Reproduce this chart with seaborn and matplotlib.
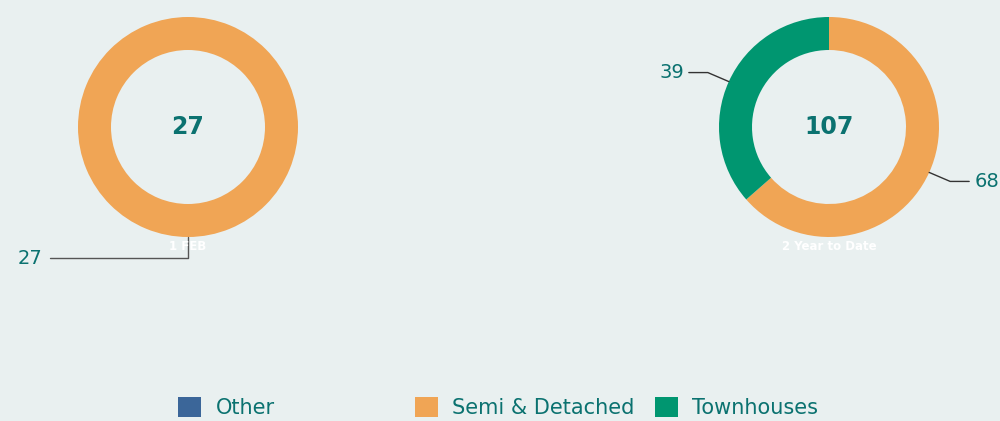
import numpy as np
import seaborn as sns
import matplotlib.pyplot as plt
from matplotlib.patches import Patch

categories = ["Other", "Semi & Detached", "Townhouses"]
feb_values = [0, 27, 0]
ytd_values = [0, 68, 39]
chart_titles = ["1 FEB", "2 Year to Date"]

colors = ["#3b6699", "#f0a555", "#009670"]
bg = "#e9f0f0"
teal = "#0b7270"

sns.set_theme(style="white")
plt.rcParams['font.family'] = ['DejaVu Sans']

fig = plt.figure(figsize=(10, 4.21), dpi=100, facecolor=bg)
ax = fig.add_axes([0, 0, 1, 1])
ax.set_facecolor(bg)

R, W = 110, 33
charts = [
    (feb_values, (188, 127)),
    (ytd_values, (829, 127)),
]

for (vals, (cx, cy)), title in zip(charts, chart_titles):
    wedges, _ = ax.pie(vals, colors=colors, center=(cx, cy), radius=R,
                       startangle=270, counterclock=True,
                       wedgeprops=dict(width=W, linewidth=0))
    ax.text(cx, cy, f"{sum(vals)}", ha="center", va="center",
            fontsize=17, fontweight="bold", color=teal)
    ax.text(cx, cy + R + 10, title, ha="center", va="center",
            fontsize=8.5, fontweight="bold", color="white")
    nz = [v for v in vals if v > 0]
    for w, v in zip(wedges, vals):
        if v == 0:
            continue
        mid = np.deg2rad((w.theta1 + w.theta2) / 2)
        px, py = cx + R * np.cos(mid), cy + R * np.sin(mid)
        if len(nz) == 1:
            # full ring: label pushed below and to the left
            ex, ey = px, py + 21
            lx = 50
            ax.plot([px, ex, lx], [py, ey, ey], color="#555555", lw=1)
            ax.text(lx - 8, ey, f"{v}", ha="right", va="center",
                    fontsize=14, color=teal)
        else:
            side = 1 if np.cos(mid) > 0 else -1
            ex, ey = px + side * 21, py + np.sign(np.sin(mid)) * 9
            lx = ex + side * 19
            ax.plot([px, ex, lx], [py, ey, ey], color="#333333", lw=1)
            ax.text(lx + side * 5, ey, f"{v}", ha="left" if side > 0 else "right",
                    va="center", fontsize=14, color=teal)

ax.set_xlim(0, 1000)
ax.set_ylim(421, 0)
ax.set_aspect("auto")
ax.axis("off")

# legend entries (uneven spacing as in the original)
legend_x = [0.178, 0.415, 0.655]
for cat, col, x in zip(categories, colors, legend_x):
    fig.legend(handles=[Patch(facecolor=col, edgecolor="none", label=cat)],
               loc="center left", bbox_to_anchor=(x, 0.033), frameon=False,
               fontsize=15, labelcolor=teal, handlelength=1.1, handleheight=1.1,
               handletextpad=0.7, borderpad=0, borderaxespad=0)

fig.savefig("out.png", dpi=100, facecolor=bg)
